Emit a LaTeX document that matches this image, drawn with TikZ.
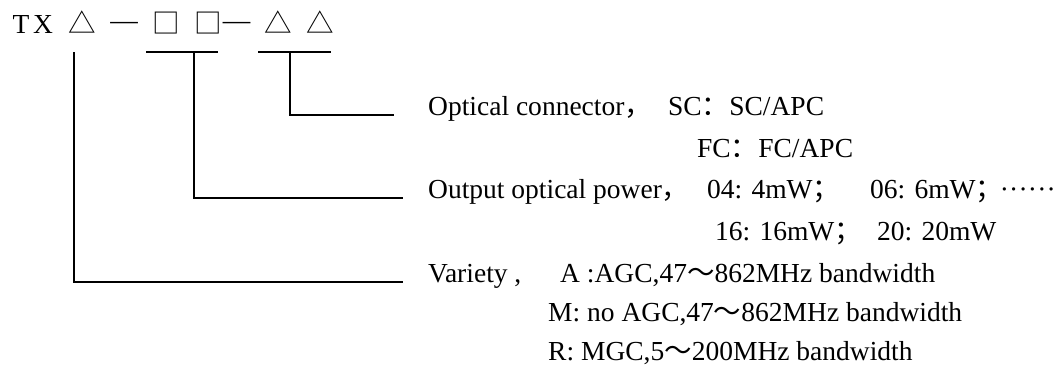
\documentclass[tikz,border=0pt]{standalone}
\usepackage{fontspec}
\setmainfont{Liberation Serif}
\newfontfamily\cjk{Noto Sans CJK SC}

\begin{document}
\begin{tikzpicture}[x=1bp,y=-1bp,font=\fontsize{27.5bp}{33bp}\selectfont,
  txt/.style={anchor=base west,inner sep=0pt},
  sym/.style={anchor=base,inner sep=0pt},
  bar/.style={line width=1.5bp}]
\useasboundingbox (0,0) rectangle (1058,367);
\node[sym] (T) at (21,33) {T};
\node[sym] (X) at (43,33) {X};
\node[sym] (kind) at (82.5,33) {\cjk △};
\node[sym] (dashA) at (124,33) {\raisebox{4bp}{—}};
\node[sym] (powA) at (166,33) {\cjk □};
\node[sym] (powB) at (208,33) {\cjk □};
\node[sym] (dashB) at (236.5,33) {\raisebox{4bp}{—}};
\node[sym] (conA) at (278.5,33) {\cjk △};
\node[sym] (conB) at (320,33) {\cjk △};

\node[txt] (conn) at (428,115) {Optical connector{\cjk ，}};
\node[txt] (sc) at (668,115) {SC{\cjk ：}SC/APC};
\node[txt] (fc) at (697,157) {FC{\cjk ：}FC/APC};
\node[txt] (power) at (428,198) {Output optical power{\cjk ，}};
\node[txt] (p04) at (707,198) {04: 4mW{\cjk ；}};
\node[txt] (p06) at (870,198) {06: 6mW{\cjk ；}};
\node[txt,anchor=base east] (more) at (1056,198) {·\kern0.2bp·\kern0.2bp·\kern0.2bp·\kern0.2bp·\kern0.2bp·};
\node[txt] (p16) at (715,240) {16: 16mW{\cjk ；}};
\node[txt] (p20) at (877,240) {20: 20mW};
\node[txt] (variety) at (428,282) {Variety ,};
\node[txt] (vA) at (560,282) {A :AGC,47{\cjk ～}862MHz bandwidth};
\node[txt] (vM) at (548,321) {M: no AGC,47{\cjk ～}862MHz bandwidth};
\node[txt] (vR) at (548,360) {R: MGC,5{\cjk ～}200MHz bandwidth};

\coordinate (kindTap) at (74,52);
\coordinate (powL) at (146,52);
\coordinate (powR) at (218,52);
\coordinate (powTap) at (194,52);
\coordinate (conL) at (258,52);
\coordinate (conR) at (331,52);
\coordinate (conTap) at (290,52);
\draw[bar] (powL) -- (powR);
\draw[bar] (conL) -- (conR);
\draw[bar,shorten >=34bp] (conTap) |- (conn.base west);
\draw[bar,shorten >=25bp] (powTap) |- (power.base west);
\draw[bar,shorten >=25bp] (kindTap) |- (variety.base west);
\end{tikzpicture}
\end{document}
